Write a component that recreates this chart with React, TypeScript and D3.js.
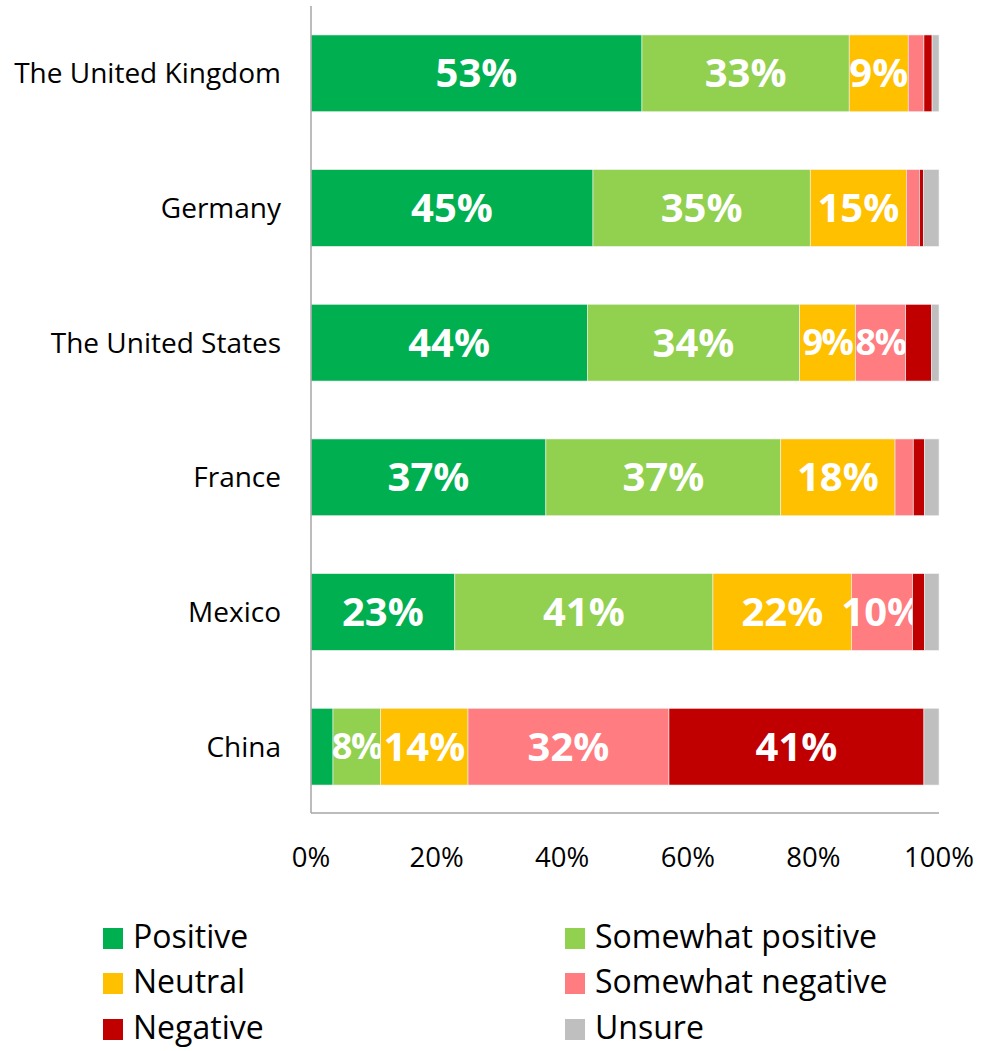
import React from "react";
import * as d3 from "d3";

const categories = ["The United Kingdom", "Germany", "The United States", "France", "Mexico", "China"];
const seriesNames = ["Positive", "Somewhat positive", "Neutral", "Somewhat negative", "Negative", "Unsure"];
const seriesColors = ["#00b050", "#92d050", "#ffc000", "#ff7c80", "#c00000", "#bfbfbf"];
const positive = [52.7, 44.9, 44.0, 37.4, 22.9, 3.5];
const somewhatPositive = [33.0, 34.6, 33.8, 37.4, 41.1, 7.6];
const neutral = [9.4, 15.3, 8.9, 18.2, 22.1, 13.9];
const somewhatNegative = [2.5, 2.1, 8.0, 2.9, 9.7, 32.0];
const negative = [1.3, 0.6, 4.1, 1.8, 1.9, 40.6];
const unsure = [1.1, 2.5, 1.2, 2.3, 2.3, 2.4];
const xTicks = [0, 20, 40, 60, 80, 100];

const seriesValues = [positive, somewhatPositive, neutral, somewhatNegative, negative, unsure];

const FONT = "'Open Sans', 'Noto Sans', sans-serif";

export default function App() {
  const width = 986;
  const height = 1051;
  const x = d3.scaleLinear().domain([0, 100]).range([311, 939]);
  const y = d3.scaleBand().domain(categories).range([6, 814]).paddingInner(0.43).paddingOuter(0.215);

  const rows = categories.map((c, i) => {
    const obj: any = { cat: c };
    seriesNames.forEach((s, j) => (obj[s] = seriesValues[j][i]));
    return obj;
  });
  const stack = d3.stack().keys(seriesNames)(rows);

  const legendCols = [103, 565];
  const legendRows = [938, 983, 1029];

  return (
    <svg width={width} height={height} style={{ position: "absolute", left: 0, top: 0 }} fontFamily={FONT}>
      <rect x={0} y={0} width={width} height={height} fill="#fff" />
      {stack.map((layer, j) => (
        <g key={j}>
          {layer.map((d, i) => {
            const x0 = x(d[0]);
            const x1 = x(d[1]);
            const v = seriesValues[j][i];
            const yy = y(categories[i])!;
            const narrow = x1 - x0 < 58;
            const fs = narrow ? 36 : 40;
            return (
              <g key={i}>
                <rect x={x0} y={yy} width={x1 - x0} height={y.bandwidth()} fill={seriesColors[j]} stroke="#f2f2f2" strokeWidth={0.6} />
                {v >= 7.5 && (
                  <text
                    x={(x0 + x1) / 2}
                    y={yy + y.bandwidth() / 2 + fs * 0.35}
                    textAnchor="middle"
                    fill="#fff"
                    fontWeight="bold"
                    fontSize={fs}
                    letterSpacing={narrow ? -1.5 : 0}
                  >
                    {Math.round(v)}%
                  </text>
                )}
              </g>
            );
          })}
        </g>
      ))}
      <line x1={311} x2={311} y1={6} y2={813} stroke="#a6a6a6" strokeWidth={1.5} />
      <line x1={311} x2={939} y1={813} y2={813} stroke="#a6a6a6" strokeWidth={1.5} />
      {categories.map((c) => (
        <text key={c} x={281} y={y(c)! + y.bandwidth() / 2 + 10} textAnchor="end" fontSize={28} fill="#000">
          {c}
        </text>
      ))}
      {xTicks.map((t) => (
        <text key={t} x={x(t)} y={867} textAnchor="middle" fontSize={27.5} fill="#000">
          {t}%
        </text>
      ))}
      {seriesNames.map((s, k) => {
        const cx = legendCols[k % 2];
        const cy = legendRows[Math.floor(k / 2)];
        return (
          <g key={s}>
            <rect x={cx} y={cy - 10} width={20} height={21} fill={seriesColors[k]} />
            <text x={cx + 30} y={cy + 10} fontSize={32} fill="#000">
              {s}
            </text>
          </g>
        );
      })}
    </svg>
  );
}
